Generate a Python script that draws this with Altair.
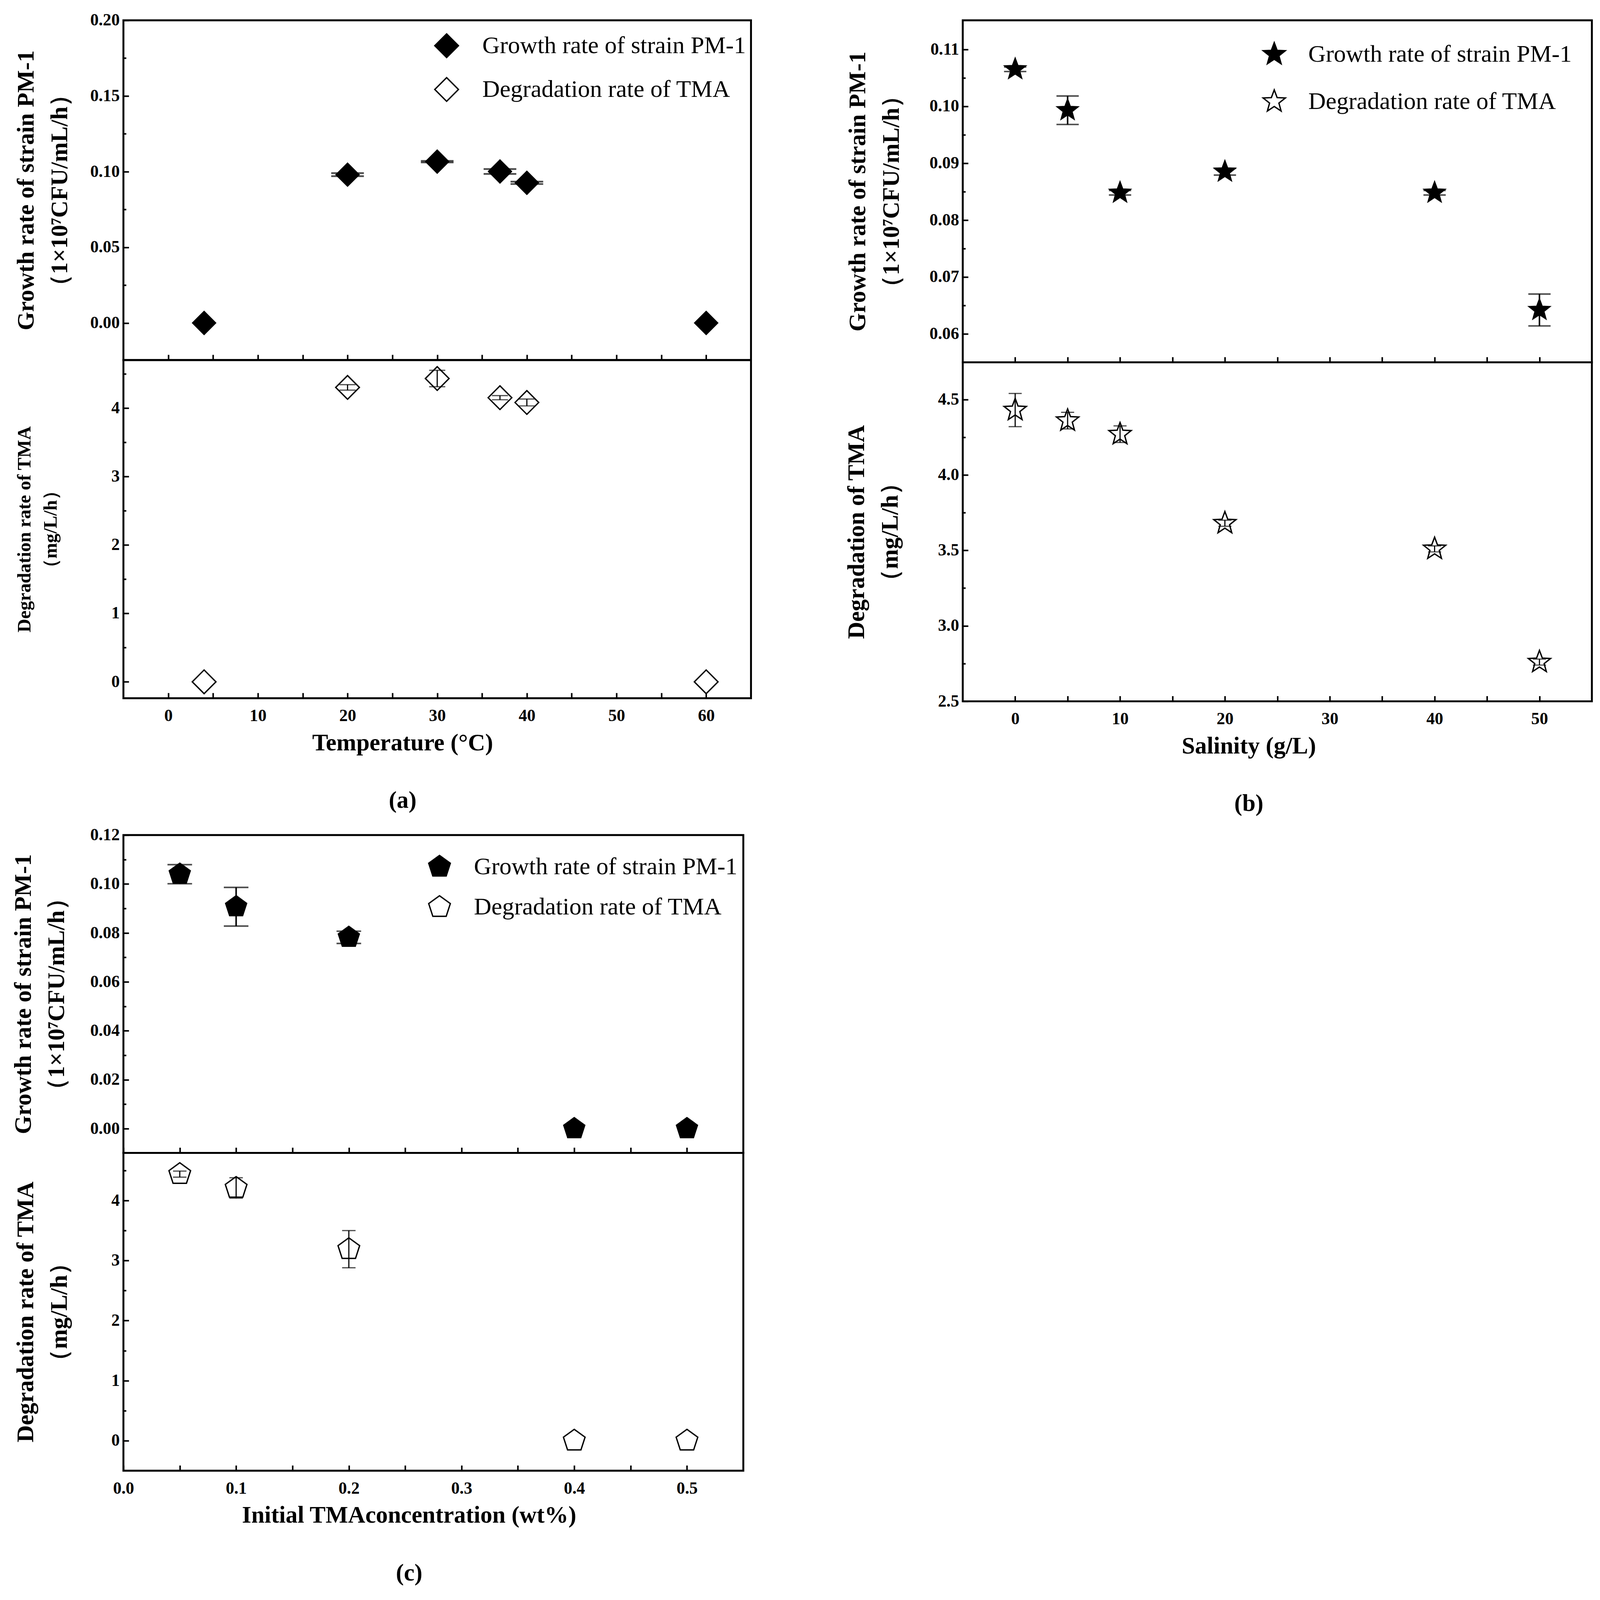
import math

import altair as alt
import pandas as pd

FONT = "Liberation Serif"
GROWTH = "Growth rate of strain PM-1"
DEGRADE = "Degradation rate of TMA"
GROWTH_TITLE = ["Growth rate of strain PM-1", "（1×10⁷CFU/mL/h）"]

# (a) temperature
temp_c = [4, 20, 30, 37, 40, 60]
temp_growth = [0.0, 0.0980, 0.1066, 0.1001, 0.0926, 0.0]
temp_growth_sd = [0.0, 0.0010, 0.0005, 0.0016, 0.0008, 0.0]
temp_tma = [0.0, 4.30, 4.43, 4.15, 4.08, 0.0]
temp_tma_sd = [0.0, 0.04, 0.12, 0.03, 0.05, 0.0]

# (b) salinity
salinity_gl = [0, 5, 10, 20, 40, 50]
sal_growth = [0.1065, 0.0993, 0.0848, 0.0885, 0.0848, 0.0642]
sal_growth_sd = [0.0004, 0.0025, 0.0004, 0.0006, 0.0004, 0.0028]
sal_tma = [4.43, 4.36, 4.27, 3.68, 3.51, 2.76]
sal_tma_sd = [0.11, 0.055, 0.055, 0.02, 0.02, 0.02]

# (c) initial TMA concentration
conc_wt = [0.05, 0.1, 0.2, 0.4, 0.5]
conc_growth = [0.1040, 0.0907, 0.0782, 0.0, 0.0]
conc_growth_sd = [0.0039, 0.0079, 0.0025, 0.0, 0.0]
conc_tma = [4.44, 4.21, 3.19, 0.0, 0.0]
conc_tma_sd = [0.05, 0.17, 0.31, 0.0, 0.0]

# tick values
temp_ticks = [0, 10, 20, 30, 40, 50, 60]
temp_minor = [5, 15, 25, 35, 45, 55]
sal_ticks = [0, 10, 20, 30, 40, 50]
sal_minor = [5, 15, 25, 35, 45]
conc_ticks = [0.0, 0.1, 0.2, 0.3, 0.4, 0.5]
conc_minor = [0.05, 0.15, 0.25, 0.35, 0.45]

growth_a_ticks = [0.0, 0.05, 0.10, 0.15, 0.20]
growth_a_minor = [0.025, 0.075, 0.125, 0.175]
growth_b_ticks = [0.06, 0.07, 0.08, 0.09, 0.10, 0.11]
growth_b_minor = [0.065, 0.075, 0.085, 0.095, 0.105]
growth_c_ticks = [0.0, 0.02, 0.04, 0.06, 0.08, 0.10, 0.12]
growth_c_minor = [0.01, 0.03, 0.05, 0.07, 0.09, 0.11]
tma_int_ticks = [0, 1, 2, 3, 4]
tma_int_minor = [0.5, 1.5, 2.5, 3.5, 4.5]
tma_b_ticks = [2.5, 3.0, 3.5, 4.0, 4.5]
tma_b_minor = [2.75, 3.25, 3.75, 4.25]


def polygon_path(radii):
    pts = []
    for i, r in enumerate(radii):
        a = math.radians(-90 + 360 * i / len(radii))
        pts.append(f"{r * math.cos(a):.4f},{r * math.sin(a):.4f}")
    return "M" + "L".join(pts) + "Z"


STAR = polygon_path([1.0, 0.42] * 5)
PENTAGON = polygon_path([1.0] * 5)


def _part(xs, ys, sds, *, x_dom, x_major, x_minor, y_dom, y_major, y_minor, y_fmt,
          y_title, y_title_size, y_title_pad, shape, size, cap, thick, width, height,
          top, x_fmt="d", x_title=None, x_title_x=None, legend=None):
    frame = pd.DataFrame({"x": xs, "y": ys, "sd": sds})
    frame["lo"] = frame["y"] - frame["sd"]
    frame["hi"] = frame["y"] + frame["sd"]
    x_scale = alt.Scale(domain=x_dom, nice=False, zero=False)
    y_scale = alt.Scale(domain=y_dom, nice=False, zero=False)

    x_opts = dict(orient="bottom", values=x_major, tickSize=14, offset=-14)
    if x_title:
        # second title line is the panel letter, as in the figure
        x_opts.update(format=x_fmt, labelPadding=24, title=x_title, titleX=x_title_x,
                      titleFontSize=62, titleLineHeight=150, titlePadding=18)
    else:
        x_opts.update(labels=False, title=None)
    y_axis = alt.Axis(orient="left", values=y_major, format=y_fmt, tickSize=14, offset=-14,
                      labelPadding=10, title=y_title, titleFontSize=y_title_size,
                      titleLineHeight=y_title_size * 1.4, titlePadding=y_title_pad)

    x_enc = alt.X("x:Q", scale=x_scale, axis=alt.Axis(**x_opts))
    y_enc = alt.Y("y:Q", scale=y_scale, axis=y_axis)
    if top:
        frame["series"] = GROWTH
        domain = [GROWTH, DEGRADE]
        points = alt.Chart(frame).mark_point(
            filled=True, size=size, strokeWidth=2, opacity=1
        ).encode(
            x=x_enc,
            y=y_enc,
            shape=alt.Shape("series:N", scale=alt.Scale(domain=domain, range=[shape, shape]), legend=legend),
            fill=alt.Fill("series:N", scale=alt.Scale(domain=domain, range=["black", "white"]), legend=legend),
            stroke=alt.Stroke("series:N", scale=alt.Scale(domain=domain, range=["black", "black"]), legend=legend),
        )
    else:
        points = alt.Chart(frame).mark_point(
            shape=shape, filled=True, fill="white", stroke="black", strokeWidth=3.5, size=size, opacity=1
        ).encode(x=x_enc, y=y_enc)

    minor = alt.Chart(frame).mark_point(opacity=0).encode(
        x=alt.X("x:Q", scale=x_scale, axis=alt.Axis(orient="bottom", values=x_minor, tickSize=14,
                                                    offset=-14, labels=False, title=None)),
        y=alt.Y("y:Q", scale=y_scale, axis=alt.Axis(orient="left", values=y_minor, tickSize=7,
                                                    offset=-7, labels=False, title=None)),
    )
    bars = alt.Chart(frame[frame["sd"] > 0]).mark_errorbar(
        ticks=True, size=cap, thickness=thick, color="black"
    ).encode(
        x=alt.X("x:Q", scale=x_scale, axis=None),
        y=alt.Y("lo:Q", scale=y_scale, axis=None),
        y2="hi:Q",
    )
    return (
        alt.layer(points, minor, bars)
        .resolve_axis(x="independent", y="independent")
        .properties(width=width, height=height)
    )


def _legend(x, y, size, offset, row_pad):
    return alt.Legend(orient="none", legendX=x, legendY=y, title=None, symbolSize=size,
                      labelOffset=offset, rowPadding=row_pad)


def _panel(top, bottom):
    return (
        alt.vconcat(top, bottom, spacing=0, bounds="flush")
        .resolve_scale(shape="independent", fill="independent", stroke="independent")
    )


panel_a = _panel(
    _part(temp_c, temp_growth, temp_growth_sd, x_dom=[-5, 65], x_major=temp_ticks, x_minor=temp_minor,
          y_dom=[-0.0245, 0.2], y_major=growth_a_ticks, y_minor=growth_a_minor, y_fmt=".2f",
          y_title=GROWTH_TITLE, y_title_size=62, y_title_pad=47, shape="diamond", size=3800,
          cap=85, thick=4.5, width=1633, height=884, top=True,
          legend=_legend(808, 33, 3800, 60, 38)),
    _part(temp_c, temp_tma, temp_tma_sd, x_dom=[-5, 65], x_major=temp_ticks, x_minor=temp_minor,
          y_dom=[-0.24, 4.7], y_major=tma_int_ticks, y_minor=tma_int_minor, y_fmt="d",
          y_title=["Degradation rate of TMA", "（mg/L/h）"], y_title_size=49, y_title_pad=132,
          shape="diamond", size=3800, cap=42, thick=3, width=1633, height=880, top=False,
          x_fmt="d", x_title=["Temperature (°C)", "(a)"], x_title_x=726),
)

panel_b = _panel(
    _part(salinity_gl, sal_growth, sal_growth_sd, x_dom=[-5, 55], x_major=sal_ticks, x_minor=sal_minor,
          y_dom=[0.055, 0.1151], y_major=growth_b_ticks, y_minor=growth_b_minor, y_fmt=".2f",
          y_title=GROWTH_TITLE, y_title_size=62, y_title_pad=67, shape=STAR, size=3700,
          cap=58, thick=4, width=1637, height=890, top=True,
          legend=_legend(778, 56, 3700, 56, 53)),
    _part(salinity_gl, sal_tma, sal_tma_sd, x_dom=[-5, 55], x_major=sal_ticks, x_minor=sal_minor,
          y_dom=[2.5, 4.746], y_major=tma_b_ticks, y_minor=tma_b_minor, y_fmt=".1f",
          y_title=["Degradation of TMA", "（mg/L/h）"], y_title_size=62, y_title_pad=92,
          shape=STAR, size=3700, cap=34, thick=3, width=1637, height=882, top=False,
          x_fmt="d", x_title=["Salinity (g/L)", "(b)"], x_title_x=744),
)

panel_c = _panel(
    _part(conc_wt, conc_growth, conc_growth_sd, x_dom=[0, 0.55], x_major=conc_ticks, x_minor=conc_minor,
          y_dom=[-0.0099, 0.12], y_major=growth_c_ticks, y_minor=growth_c_minor, y_fmt=".2f",
          y_title=GROWTH_TITLE, y_title_size=62, y_title_pad=55, shape=PENTAGON, size=3500,
          cap=64, thick=4, width=1613, height=827, top=True,
          legend=_legend(791, 51, 3500, 58, 35)),
    _part(conc_wt, conc_tma, conc_tma_sd, x_dom=[0, 0.55], x_major=conc_ticks, x_minor=conc_minor,
          y_dom=[-0.5, 4.794], y_major=tma_int_ticks, y_minor=tma_int_minor, y_fmt="d",
          y_title=["Degradation rate of TMA", "（mg/L/h）"], y_title_size=62, y_title_pad=103,
          shape=PENTAGON, size=3500, cap=35, thick=3, width=1613, height=827, top=False,
          x_fmt=".1f", x_title=["Initial TMAconcentration (wt%)", "(c)"], x_title_x=743),
)

row = alt.hconcat(panel_a, panel_b, spacing=238).resolve_scale(
    shape="independent", fill="independent", stroke="independent"
)

chart = (
    alt.concat(row, panel_c, columns=1, spacing=23, align="none")
    .resolve_scale(shape="independent", fill="independent", stroke="independent")
    .properties(padding={"left": 18, "top": -14, "right": 10, "bottom": 20})
    .configure_view(stroke="black", strokeWidth=5)
    .configure_axis(
        domain=False, grid=False, tickColor="black", tickWidth=4,
        labelFont=FONT, labelFontSize=44, labelFontWeight="bold", labelColor="black",
        labelFlush=False, labelOverlap=False,
        titleFont=FONT, titleFontWeight="bold", titleColor="black",
    )
    .configure_legend(
        labelFont=FONT, labelFontSize=63, labelColor="black", labelLimit=0,
        symbolStrokeWidth=3.5, padding=0,
    )
)

chart.save("out.html", embed_options={"renderer": "svg", "actions": False})
